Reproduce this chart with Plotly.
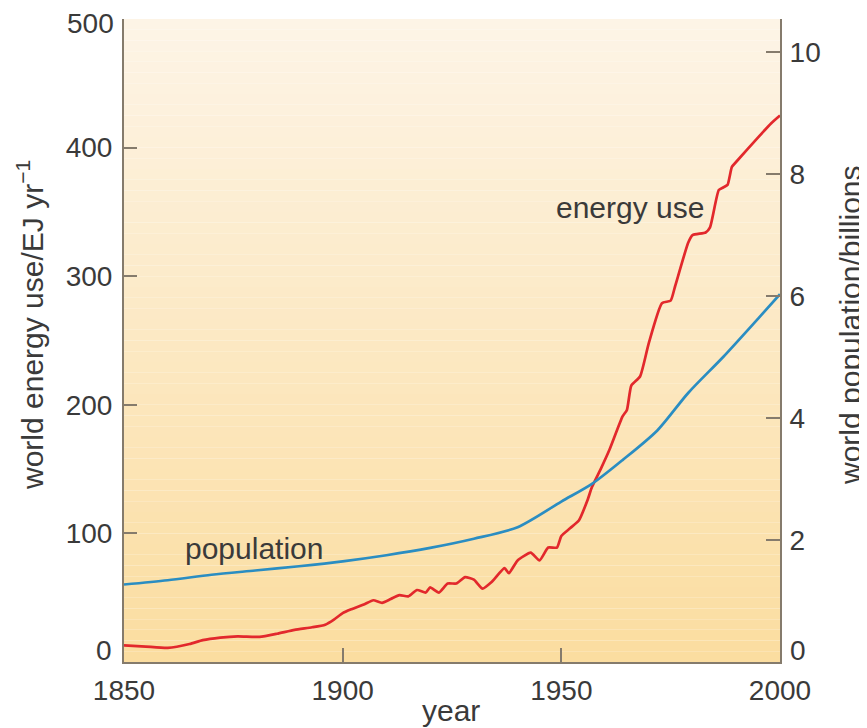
import plotly.graph_objects as go

# ---- data ----
energy_years = [1850, 1855, 1860, 1865, 1868, 1872, 1876, 1881, 1885, 1889, 1893, 1896,
                1898, 1900, 1902, 1905, 1907, 1909, 1911, 1913, 1915, 1917, 1919, 1920,
                1922, 1924, 1926, 1928, 1930, 1932, 1934, 1937, 1938, 1940, 1943, 1945,
                1947, 1949, 1950, 1952, 1954, 1956, 1957, 1959, 1961, 1964, 1965, 1966,
                1968, 1970, 1973, 1975, 1976, 1979, 1980, 1983, 1984, 1986, 1987, 1988,
                1989, 1990, 1995, 1998, 2000]
energy_use = [13, 12, 11, 14, 17, 19, 20, 19.5, 22, 25, 27, 29,
              33, 38, 41, 45, 48, 46, 49, 52, 51, 56, 54, 58,
              54, 61, 61, 66, 64, 57, 62, 73, 69, 79, 85, 79,
              89, 89, 98, 104, 110, 126, 136, 150, 165, 191, 196, 215,
              222, 248, 279, 281, 292, 326, 332, 334, 338, 367, 369, 371,
              385, 389, 408, 419, 425]

pop_years = [1850, 1860, 1870, 1880, 1890, 1900, 1910, 1920, 1930, 1940, 1950,
             1957, 1964, 1972, 1979, 1987, 1995, 2000]
population = [1.27, 1.34, 1.43, 1.50, 1.57, 1.65, 1.75, 1.87, 2.02, 2.21, 2.63,
              2.92, 3.31, 3.80, 4.41, 5.00, 5.63, 6.03]

x_ticks = [1850, 1900, 1950, 2000]
left_ticks = [0, 100, 200, 300, 400, 500]
right_ticks = [0, 2, 4, 6, 8, 10]

# ---- styling ----
FONT = "Liberation Sans, Arial, sans-serif"
TXT = "#3a3a3a"
AX = "#857b6c"
RED = "#e2282c"
BLUE = "#2a8dc2"
OFF = 8                      # page body margin
W, H = 867 - OFF, 728 - OFF
PX0, PX1, PY0, PY1 = 124, 780, 19, 662   # plot area in window pixels
L, T = PX0 - OFF, PY0 - OFF
R, B = W - (PX1 - OFF), H - (PY1 - OFF)

fig = go.Figure()
fig.add_trace(go.Scatter(x=energy_years, y=energy_use, mode="lines",
                         line=dict(color=RED, width=2.7, shape="spline", smoothing=0.5),
                         yaxis="y", showlegend=False))
fig.add_trace(go.Scatter(x=pop_years, y=population, mode="lines",
                         line=dict(color=BLUE, width=2.7, shape="spline", smoothing=0.8),
                         yaxis="y2", showlegend=False))

# background vertical gradient (cream -> orange) inside the plot area
top = (253, 244, 230)
bot = (251, 221, 160)
n = 60
shapes = []
for i in range(n):
    f = i / (n - 1)
    c = tuple(int(round(top[k] + (bot[k] - top[k]) * f)) for k in range(3))
    shapes.append(dict(type="rect", xref="x domain", yref="y domain",
                       x0=0, x1=1, y0=1 - (i + 1) / n, y1=1 - i / n,
                       fillcolor="rgb(%d,%d,%d)" % c, line=dict(width=0), layer="below"))

tick_font = dict(family=FONT, size=28, color=TXT)
ph = PY1 - PY0

fig.update_layout(
    width=W, height=H,
    margin=dict(l=L, r=R, t=T, b=B, autoexpand=False),
    paper_bgcolor="white", plot_bgcolor="white",
    shapes=shapes,
    xaxis=dict(range=[1850, 2000], tickvals=x_ticks, ticktext=[str(v) for v in x_ticks],
               ticks="inside", ticklen=14, tickwidth=1.5, tickcolor=AX,
               showline=True, linecolor=AX, linewidth=2, showgrid=False, zeroline=False,
               tickfont=tick_font, ticklabelstandoff=2, automargin=False,
               ticklabeloverflow="allow"),
    yaxis=dict(range=[0, 500], tickvals=left_ticks,
               ticktext=["" if v in (0, 500) else str(v) for v in left_ticks],
               ticks="inside", ticklen=13, tickwidth=1.5, tickcolor=AX,
               showline=True, linecolor=AX, linewidth=2, showgrid=False, zeroline=False,
               tickfont=tick_font, ticklabelstandoff=4, automargin=False,
               ticklabeloverflow="allow"),
    yaxis2=dict(range=[0, ph / 61], overlaying="y", side="right", tickvals=right_ticks,
                ticktext=["" if v == 0 else str(v) for v in right_ticks],
                ticks="inside", ticklen=14, tickwidth=1.5, tickcolor=AX,
                showline=True, linecolor=AX, linewidth=2, showgrid=False, zeroline=False,
                tickfont=tick_font, ticklabelstandoff=2, automargin=False,
                ticklabeloverflow="allow"),
)

pw = PX1 - PX0
def px(xp):
    return (xp - PX0) / pw
def py(yp):
    return (PY1 - yp) / ph

annots = [
    dict(text="world energy use/EJ yr<sup>−1</sup>", x=px(30), y=py(325), textangle=-90, size=30),
    dict(text="world population/billions", x=px(850), y=py(325), textangle=-90, size=30),
    dict(text="year", x=px(451), y=py(711), size=30),
    dict(text="population", x=px(254), y=py(548), size=30),
    dict(text="energy use", x=px(630), y=py(208), size=30),
    dict(text="0", x=px(104), y=py(650), size=28),
    dict(text="0", x=px(798), y=py(650), size=28),
    dict(text=str(left_ticks[-1]), x=px(90), y=py(23), size=28),
]
for a in annots:
    size = a.pop("size")
    fig.add_annotation(xref="paper", yref="paper", showarrow=False,
                       xanchor="center", yanchor="middle",
                       font=dict(family=FONT, size=size, color=TXT), **a)

fig.write_html("out.html")
